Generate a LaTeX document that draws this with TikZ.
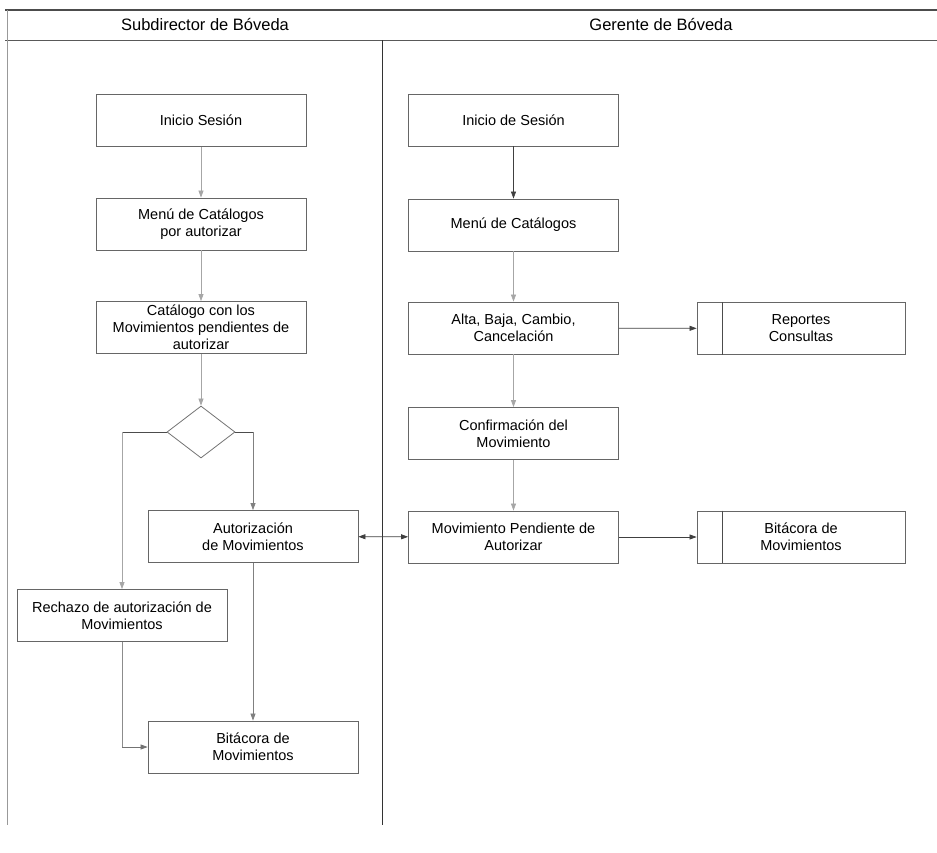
\documentclass[tikz,border=0pt]{standalone}
\usepackage{fontspec}
\setmainfont{Liberation Sans}
\usetikzlibrary{arrows.meta,shapes.geometric}
\begin{document}
\begin{tikzpicture}[x=1pt,y=-1pt,
  stepbox/.style={draw=black!60,line width=0.8pt,rectangle,minimum width=210pt,minimum height=52pt,inner sep=0pt,align=center,font=\fontsize{14.5}{17}\selectfont},
  splitbox/.style={stepbox,minimum width=208pt},
  choice/.style={draw=black!55,line width=0.8pt,diamond,shape aspect=1.3,minimum width=68pt,minimum height=52pt,inner sep=0pt},
  conn/.style={draw=black!75,line width=0.7pt,-{Triangle[length=7pt,width=5pt]}},
  faint/.style={conn,draw=black!35},
  plainline/.style={draw=black!70,line width=0.7pt},
  lanehead/.style={font=\fontsize{16.5}{19}\selectfont}]
\useasboundingbox (0,0) rectangle (937,852);

% swimlane frame
\draw[black!70,line width=1.3pt] (5,10) -- (937,10);
\draw[black!65,line width=1pt] (5,40) -- (937,40);
\draw[black!40,line width=0.8pt] (7,10) -- (7,825);
\draw[black!80,line width=1pt] (382,40) -- (382,825);
\node[lanehead] (h1) at (205,25) {Subdirector de Bóveda};
\node[lanehead] (h2) at (661,25) {Gerente de Bóveda};

% Subdirector lane
\node[stepbox] (ls1) at (201,120.5) {Inicio Sesión};
\node[stepbox] (ls2) at (201,224) {Menú de Catálogos\\por autorizar};
\node[stepbox] (ls3) at (201,327.5) {Catálogo con los\\Movimientos pendientes de\\autorizar};
\node[choice] (dec) at (201,432) {};
\node[stepbox] (aut) at (253,536.5) {Autorización\\de Movimientos};
\node[stepbox] (rech) at (122,615.5) {Rechazo de autorización de\\Movimientos};
\node[stepbox] (bitL) at (253,747) {Bitácora de\\Movimientos};

% Gerente lane
\node[stepbox] (r1) at (513.5,120) {Inicio de Sesión};
\node[stepbox] (r2) at (513.5,225) {Menú de Catálogos};
\node[stepbox] (r3) at (513.5,328) {Alta, Baja, Cambio,\\Cancelación};
\node[stepbox] (r4) at (513.5,433.5) {Confirmación del\\Movimiento};
\node[stepbox] (r5) at (513.5,537) {Movimiento Pendiente de\\Autorizar};
\node[splitbox] (rep) at (801,328.5) {Reportes\\Consultas};
\node[splitbox] (bitR) at (801,537) {Bitácora de\\Movimientos};
\draw[black!70,line width=1pt] ([xshift=26pt]rep.north west) -- ([xshift=26pt]rep.south west);
\draw[black!70,line width=1pt] ([xshift=26pt]bitR.north west) -- ([xshift=26pt]bitR.south west);

% Subdirector flow
\draw[faint] (ls1) -- (ls2);
\draw[faint] (ls2) -- (ls3);
\draw[faint] (ls3) -- (dec);
\coordinate (dl) at (122,432);
\coordinate (dr) at (253,432);
\draw[plainline] (dec.west) -- (dl);
\draw[faint] (dl) -- (rech.north);
\draw[plainline] (dec.east) -- (dr);
\draw[conn,draw=black!50] (dr) -- (aut.north);
\draw[conn,draw=black!50] (aut) -- (bitL);
\coordinate (rb) at (122,747);
\draw[black!45,line width=0.7pt] (rech.south) -- (rb);
\draw[conn,draw=black!55] (rb) -- (bitL.west);

% Gerente flow
\draw[conn] (r1) -- (r2);
\draw[faint] (r2) -- (r3);
\draw[faint] (r3) -- (r4);
\draw[faint] (r4) -- (r5);
\draw[conn] (r3) -- (rep);
\draw[conn] (r5) -- (bitR);
\draw[conn,{Triangle[length=7pt,width=5pt]}-{Triangle[length=7pt,width=5pt]}] (aut) -- (r5);
\end{tikzpicture}
\end{document}
